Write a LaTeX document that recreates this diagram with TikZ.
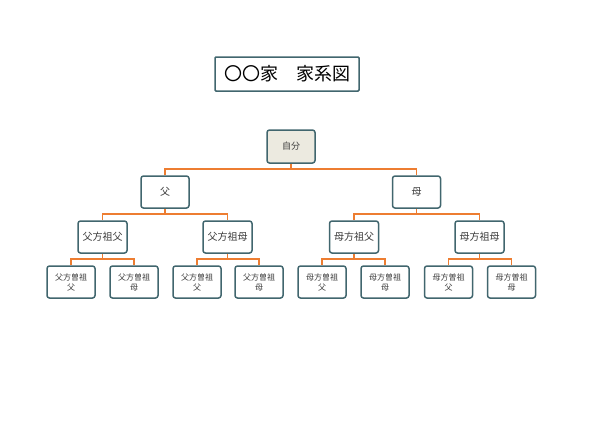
\documentclass[tikz,border=0pt]{standalone}
\usepackage{fontspec}
\usetikzlibrary{backgrounds}
\newfontfamily\jp{Noto Sans CJK JP}
\definecolor{boxline}{HTML}{41666E}
\definecolor{conn}{HTML}{ED7D31}
\definecolor{selffill}{HTML}{ECEAE0}
\definecolor{txt}{HTML}{3A3A3A}
\begin{document}
\begin{tikzpicture}[x=1pt,y=-1pt,
  person/.style={draw=boxline, line width=1.5pt, rounded corners=2.5pt, fill=white,
    minimum width=48pt, minimum height=32pt, inner sep=1pt, text=txt,
    font=\jp\fontsize{10}{12}\selectfont, align=center},
  greatbox/.style={person, font=\jp\fontsize{8}{10}\selectfont},
  titlebox/.style={draw=boxline, line width=1.5pt, rounded corners=1pt, fill=white,
    minimum width=144pt, minimum height=34pt, inner sep=1pt,
    font=\jp\fontsize{18}{20}\selectfont},
  link/.style={draw=conn, line width=1.5pt}]
\useasboundingbox (0,0) rectangle (600,426);

\node[titlebox] (title) at (287,74) {〇〇家　家系図};

\node[person, fill=selffill, minimum height=33pt, font=\jp\fontsize{9}{11}\selectfont] (me) at (291,146.5) {自分};

\node[person] (fa) at (165,192) {父};
\node[person] (mo) at (416.5,192) {母};

\node[person, minimum width=49pt] (ff) at (102.5,237) {父方祖父};
\node[person, minimum width=49pt] (fm) at (227.5,237) {父方祖母};
\node[person, minimum width=49pt] (mf) at (354,237) {母方祖父};
\node[person, minimum width=49pt] (mm) at (479.5,237) {母方祖母};

\node[greatbox] (fff) at (71,282) {父方曽祖\\父};
\node[greatbox] (ffm) at (134,282) {父方曽祖\\母};
\node[greatbox] (fmf) at (197,282) {父方曽祖\\父};
\node[greatbox] (fmm) at (259,282) {父方曽祖\\母};
\node[greatbox] (mff) at (322,282) {母方曽祖\\父};
\node[greatbox] (mfm) at (385,282) {母方曽祖\\母};
\node[greatbox] (mmf) at (448.5,282) {母方曽祖\\父};
\node[greatbox] (mmm) at (511.5,282) {母方曽祖\\母};

\begin{scope}[on background layer]
\fill[white] (0,0) rectangle (600,426);
\foreach \p/\c/\y in {me/fa/169, me/mo/169,
    fa/ff/214, fa/fm/214, mo/mf/214, mo/mm/214,
    ff/fff/259, ff/ffm/259, fm/fmf/259, fm/fmm/259,
    mf/mff/259, mf/mfm/259, mm/mmf/259, mm/mmm/259}{
  \draw[link] (\p.south) -- (\p.south |- 0,\y) -| (\c.north);
}
\end{scope}
\end{tikzpicture}
\end{document}
